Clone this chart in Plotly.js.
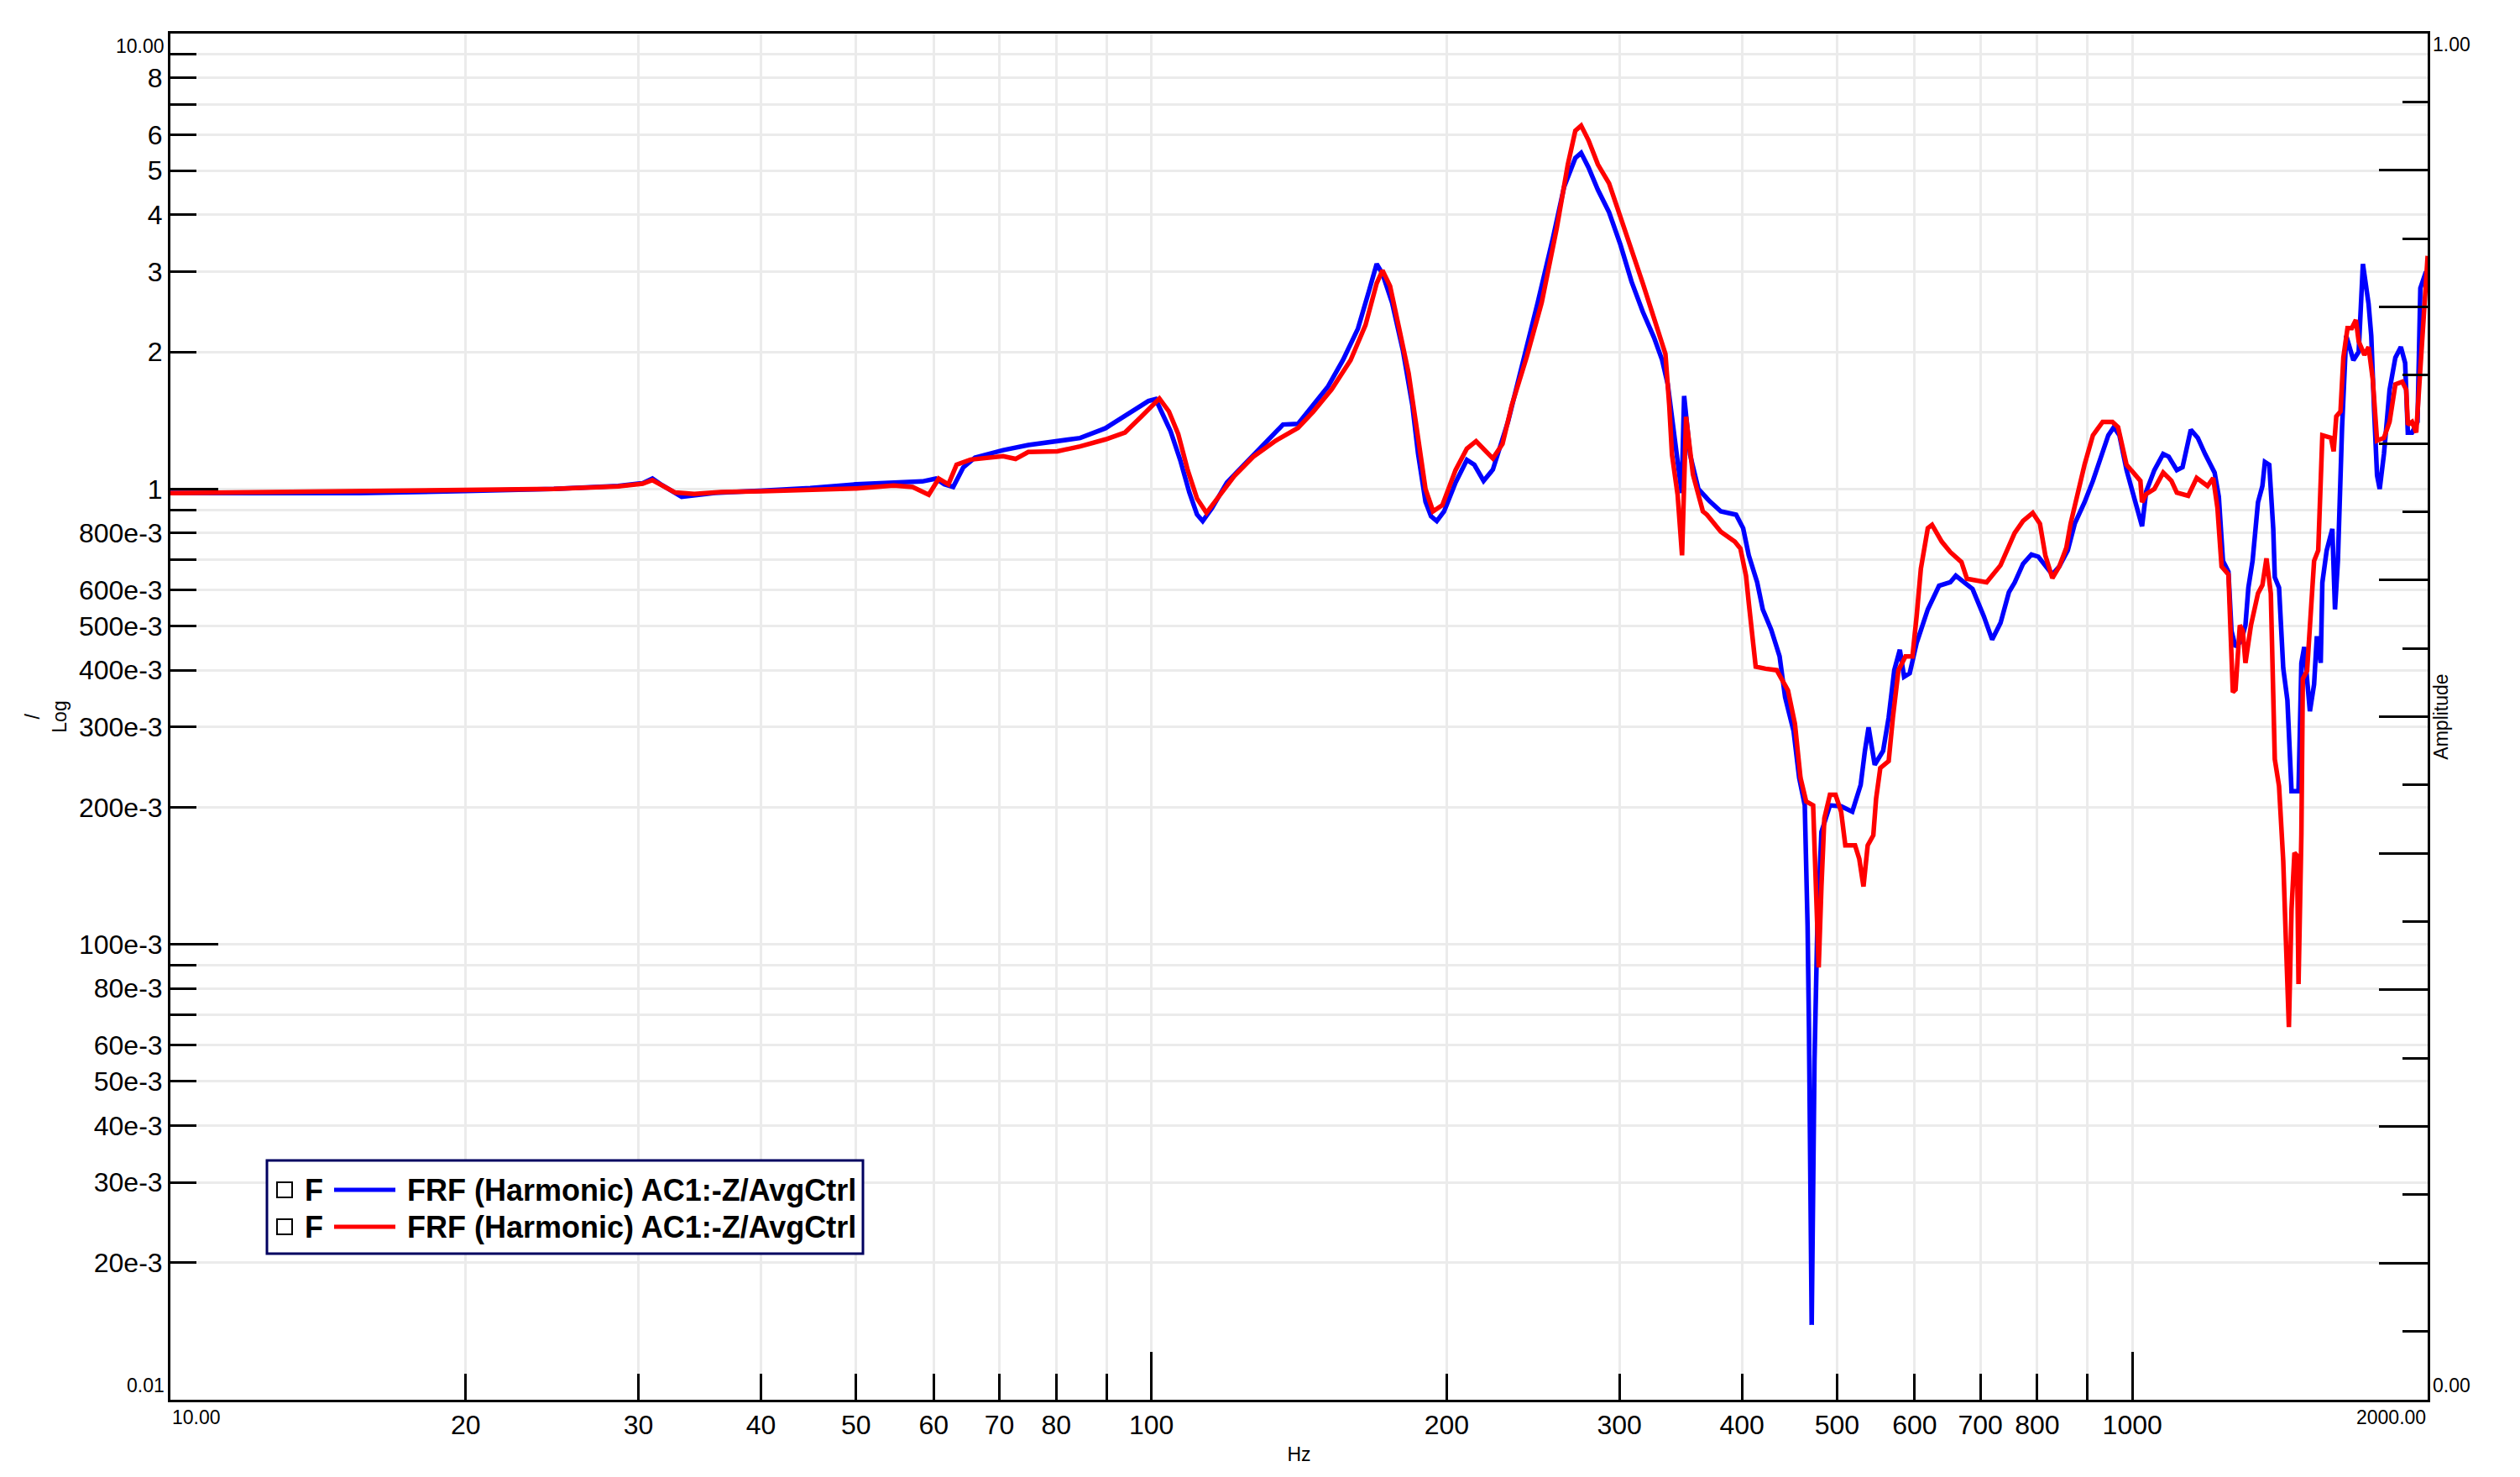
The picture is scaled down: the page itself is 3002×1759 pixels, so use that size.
<!DOCTYPE html>
<html>
<head>
<meta charset="utf-8">
<script src="https://cdn.plot.ly/plotly-3.0.1.min.js"></script>
<style>html,body{margin:0;padding:0;background:#fff;}#chart{width:3002px;height:1759px;}</style>
</head>
<body>
<div id="chart"></div>
<script>
// ---- data ----
const blueFreq = [10,12.5,15.6,20,24.6,28.6,30.3,31.0,31.7,33.2,35.9,40.2,44.9,50,54.6,58.4,60.3,61.5,62.8,64.3,66.1,70.6,74.9,80.2,84.6,89.8,95.4,99.3,101,102.8,104.6,107,109.3,111.3,112.8,115.3,119.4,124.8,130.4,136.2,141.1,146.2,151.4,156.8,162.4,166.8,169.7,172,175.9,180.5,184.5,187,190.3,192.8,195.4,198.8,204.2,209.7,213.4,218.1,222.9,231,239.2,247.7,256.6,263.5,270.5,274.2,279,285.2,292.8,300.7,308.7,316.9,325.4,331.6,336,340.4,345,347.2,349.2,351,354.1,361.1,370.7,380.6,394.5,401.1,406.4,414.5,420,428.4,436.9,442.6,451.5,457.5,463.5,466.6,468.1,471.1,474.2,477.4,482,491.7,504.8,518.2,528.5,533.8,538.4,546.2,557.1,564.4,571.9,579.4,585.2,593,602.7,618.7,635.3,652.2,660.7,687.2,705.5,719.5,733.9,748.4,758.6,773.7,789,802,815.3,828.8,842.5,859.3,873.5,893.8,911.6,929.7,945.1,957.5,970.1,986.5,1006,1023,1033,1053,1075,1089,1110,1125,1147,1166,1186,1213,1225,1237,1253,1262,1274,1291,1304,1313,1326,1343,1357,1365,1379,1392,1397,1411,1425,1439,1453,1477,1487,1497,1517,1532,1542,1556,1562,1578,1599,1609,1620,1636,1652,1680,1701,1718,1741,1752,1764,1776,1787,1805,1829,1854,1878,1897,1909,1928,1953,1966,1992,2000];
const blueAmp = [0.98,0.978,0.979,0.99,1.0,1.015,1.03,1.054,1.02,0.961,0.98,0.992,1.005,1.024,1.032,1.039,1.054,1.024,1.01,1.115,1.172,1.217,1.249,1.27,1.294,1.36,1.48,1.56,1.575,1.45,1.34,1.158,0.984,0.879,0.85,0.908,1.033,1.14,1.256,1.385,1.39,1.526,1.68,1.92,2.25,2.74,3.12,2.97,2.57,2.01,1.53,1.196,0.937,0.871,0.85,0.893,1.033,1.158,1.13,1.042,1.103,1.407,1.886,2.57,3.55,4.61,5.33,5.47,5.08,4.54,4.05,3.44,2.85,2.45,2.15,1.92,1.7,1.35,1.114,0.98,1.6,1.4,1.19,1.0,0.94,0.893,0.878,0.82,0.715,0.624,0.544,0.491,0.429,0.349,0.294,0.232,0.202,0.1095,0.0656,0.0146,0.0553,0.1095,0.1765,0.202,0.201,0.1956,0.224,0.266,0.2996,0.248,0.266,0.315,0.40,0.4435,0.387,0.394,0.459,0.544,0.613,0.624,0.645,0.603,0.526,0.467,0.508,0.593,0.623,0.685,0.718,0.71,0.676,0.649,0.676,0.733,0.839,0.935,1.042,1.194,1.312,1.367,1.312,1.10,0.935,0.828,0.987,1.10,1.194,1.178,1.10,1.116,1.349,1.295,1.194,1.086,0.961,0.695,0.658,0.488,0.45,0.463,0.502,0.607,0.695,0.935,1.015,1.146,1.13,0.817,0.64,0.607,0.404,0.3435,0.217,0.217,0.415,0.45,0.325,0.3725,0.475,0.415,0.623,0.733,0.817,0.544,0.695,1.367,2.17,1.918,2.0,3.12,2.55,2.17,1.48,1.071,1.0,1.194,1.65,1.943,2.05,1.891,1.33,1.33,1.404,2.76,3.0,2.9];

const redFreq = [10,12.5,15.6,20,24.6,28.6,30.3,31.0,31.7,32.7,34.2,36.4,40.2,44.9,50,54.6,57.1,59.3,60.7,62.1,63.3,65.4,70.6,72.7,74.9,80.2,84.6,89.8,94,97.6,101.9,104.2,106.5,108.9,111.3,113.8,117.3,121.5,127,133.9,141.1,146.2,152.7,159.6,165.3,169.7,172,175.1,178.9,182.9,187,190.3,193.7,198,204.2,209.7,214.3,219.1,222.9,228,233,241.3,250,258.9,265.8,270.5,274.2,279,285.2,292.8,300.7,308.7,316.9,325.4,334.2,337.2,339.4,343.9,347.5,350.8,356.5,364.9,368.4,380.6,393.3,398.5,403.8,406.4,410.4,413.1,422.7,434,445.6,452.9,458.9,465,472.7,475.8,478.9,482,485.3,491.7,498.2,504.8,509.8,521.6,526.8,532,537.3,544.4,548,553.4,564.4,570,577.5,587.1,596.8,602.7,608.7,618.7,624.9,639.3,652.2,669.5,678.3,710.3,733.9,758.5,773.7,791.5,805,815.3,828.8,842.5,856.5,865,879.4,893.8,911.6,932.7,954.4,967,986.5,1019,1023,1033,1053,1075,1096,1110,1140,1163,1193,1209,1221,1233,1253,1266,1274,1287,1296,1304,1321,1343,1357,1370,1384,1392,1397,1411,1425,1434,1444,1453,1463,1472,1477,1487,1492,1507,1517,1532,1547,1552,1562,1594,1604,1614,1630,1641,1657,1674,1690,1701,1724,1741,1758,1776,1805,1829,1854,1884,1902,1909,1928,1947,1966,1986,2000];
const redAmp = [0.979,0.985,0.987,0.993,1.0,1.013,1.027,1.046,1.017,0.982,0.975,0.985,0.989,0.996,1.003,1.017,1.01,0.971,1.054,1.024,1.131,1.16,1.18,1.164,1.206,1.21,1.24,1.285,1.331,1.44,1.58,1.48,1.32,1.10,0.953,0.886,0.968,1.068,1.177,1.277,1.362,1.478,1.656,1.917,2.29,2.83,3.02,2.79,2.25,1.796,1.297,1.0,0.893,0.922,1.10,1.226,1.273,1.216,1.167,1.256,1.526,1.948,2.57,3.73,5.16,6.12,6.28,5.83,5.16,4.69,3.98,3.33,2.83,2.37,1.98,1.53,1.19,0.972,0.715,1.44,1.077,0.893,0.878,0.806,0.766,0.74,0.645,0.563,0.459,0.407,0.403,0.40,0.361,0.305,0.232,0.206,0.202,0.139,0.089,0.134,0.189,0.213,0.213,0.1956,0.165,0.165,0.154,0.134,0.165,0.1736,0.209,0.244,0.2526,0.315,0.40,0.429,0.429,0.526,0.668,0.82,0.834,0.766,0.727,0.691,0.635,0.624,0.68,0.8,0.851,0.886,0.839,0.714,0.637,0.676,0.743,0.839,0.987,1.13,1.312,1.404,1.404,1.367,1.13,1.042,0.935,0.974,1.0,1.086,1.042,0.982,0.966,1.057,1.015,1.057,0.91,0.676,0.649,0.358,0.3625,0.502,0.488,0.415,0.502,0.59,0.615,0.704,0.59,0.3435,0.255,0.2226,0.1524,0.1016,0.0658,0.1194,0.1588,0.1566,0.0818,0.1746,0.383,0.399,0.502,0.695,0.733,0.898,1.312,1.295,1.21,1.443,1.48,1.943,2.255,2.255,2.35,2.11,1.97,2.05,1.744,1.277,1.295,1.404,1.697,1.72,1.652,1.385,1.404,1.33,1.79,2.62,3.25];

const seriesName = "FRF (Harmonic) AC1:-Z/AvgCtrl";

const xTickVals = [20,30,40,50,60,70,80,90,100,200,300,400,500,600,700,800,900,1000];
const xTickText = ["20","30","40","50","60","70","80","","100","200","300","400","500","600","700","800","","1000"];
const yTickVals = [0.02,0.03,0.04,0.05,0.06,0.07,0.08,0.09,0.1,0.2,0.3,0.4,0.5,0.6,0.7,0.8,0.9,1,2,3,4,5,6,7,8,9];
const yTickText = ["20e-3","30e-3","40e-3","50e-3","60e-3","","80e-3","","100e-3","200e-3","300e-3","400e-3","500e-3","600e-3","","800e-3","","1","2","3","4","5","6","","8",""];
const decadeX = [100,1000];
const decadeY = [0.1,1];
const xRange = [10,2000];
const yRange = [0.01,10];

// ---- chart ----
const FONT = "Liberation Sans, Arial, sans-serif";
const traces = [
  {x: blueFreq, y: blueAmp, type: "scatter", mode: "lines", name: seriesName,
   line: {color: "#0000ff", width: 5.5}, showlegend: false, hoverinfo: "skip"},
  {x: redFreq, y: redAmp, type: "scatter", mode: "lines", name: seriesName,
   line: {color: "#ff0000", width: 5.5}, showlegend: false, hoverinfo: "skip"},
  {x: [], y: [], xaxis: "x", yaxis: "y2", showlegend: false},
  {x: [], y: [], xaxis: "x2", yaxis: "y", showlegend: false},
  {x: [], y: [], xaxis: "x", yaxis: "y3", showlegend: false}
];

const P = {l: 203, r: 110, t: 40, b: 92, W: 3002, H: 1759};
const pw = P.W - P.l - P.r, ph = P.H - P.t - P.b;
const px = x => (x - P.l) / pw;
const py = y => (P.H - P.b - y) / ph;

const legendRows = [1417, 1461];
const legendColors = ["#0000ff", "#ff0000"];
const shapes = [
  {type: "rect", xref: "paper", yref: "paper", x0: px(318), x1: px(1028), y0: py(1493), y1: py(1382),
   line: {color: "#000060", width: 3}, fillcolor: "#ffffff", layer: "above"}
];
const annotations = [];
legendRows.forEach((r, i) => {
  shapes.push({type: "rect", xref: "paper", yref: "paper", x0: px(330), x1: px(348), y0: py(r + 9), y1: py(r - 9),
    line: {color: "#000000", width: 2}, fillcolor: "#ffffff", layer: "above"});
  shapes.push({type: "line", xref: "paper", yref: "paper", x0: px(398), x1: px(471), y0: py(r), y1: py(r),
    line: {color: legendColors[i], width: 5}, layer: "above"});
  annotations.push({xref: "paper", yref: "paper", x: px(361), y: py(r), xanchor: "left", yanchor: "middle",
    text: "<b>F</b>", showarrow: false, font: {family: FONT, size: 36, color: "#000"}});
  annotations.push({xref: "paper", yref: "paper", x: px(483), y: py(r), xanchor: "left", yanchor: "middle",
    text: "<b>" + seriesName + "</b>", showarrow: false, font: {family: FONT, size: 36, color: "#000"}});
});
const small = {family: FONT, size: 23, color: "#000"};
annotations.push(
  {xref: "paper", yref: "paper", x: 0, y: 1, xanchor: "right", yanchor: "middle", xshift: -5, yshift: -15, text: "10.00", showarrow: false, font: small},
  {xref: "paper", yref: "paper", x: 0, y: 0, xanchor: "right", yanchor: "middle", xshift: -5, yshift: 17, text: "0.01", showarrow: false, font: small},
  {xref: "paper", yref: "paper", x: 0, y: 0, xanchor: "left", yanchor: "top", yshift: -6, text: "10.00", showarrow: false, font: small},
  {xref: "paper", yref: "paper", x: 1, y: 0, xanchor: "right", yanchor: "top", yshift: -6, text: "2000.00", showarrow: false, font: small},
  {xref: "paper", yref: "paper", x: 1, y: 1, xanchor: "left", yanchor: "middle", xshift: 4, yshift: -13, text: "1.00", showarrow: false, font: small},
  {xref: "paper", yref: "paper", x: 1, y: 0, xanchor: "left", yanchor: "middle", xshift: 4, yshift: 17, text: "0.00", showarrow: false, font: small},
  {xref: "paper", yref: "paper", x: px(38), y: 0.5, xanchor: "center", yanchor: "middle", textangle: -90, text: "/", showarrow: false, font: small}
);

const logR = r => [Math.log10(r[0]), Math.log10(r[1])];
const layout = {
  width: P.W, height: P.H,
  margin: {l: P.l, r: P.r, t: P.t, b: P.b},
  paper_bgcolor: "#ffffff", plot_bgcolor: "#ffffff",
  font: {family: FONT, size: 32, color: "#000"},
  showlegend: false, hovermode: false,
  xaxis: {type: "log", range: logR(xRange), tickmode: "array", tickvals: xTickVals, ticktext: xTickText,
    ticks: "inside", ticklen: 31, tickwidth: 3, tickcolor: "#000",
    showgrid: true, gridcolor: "#ebebeb", gridwidth: 3, zeroline: false,
    showline: true, linecolor: "#000", linewidth: 3, mirror: true,
    tickfont: {family: FONT, size: 32, color: "#000"},
    title: {text: "Hz", font: {family: FONT, size: 23, color: "#000"}, standoff: 10}},
  xaxis2: {type: "log", range: logR(xRange), overlaying: "x", anchor: "y", side: "bottom",
    tickmode: "array", tickvals: decadeX, ticks: "inside", ticklen: 57, tickwidth: 3, tickcolor: "#000",
    showticklabels: false, showgrid: false, zeroline: false, showline: false},
  yaxis: {type: "log", range: logR(yRange), tickmode: "array", tickvals: yTickVals, ticktext: yTickText,
    ticks: "inside", ticklen: 31, tickwidth: 3, tickcolor: "#000",
    showgrid: true, gridcolor: "#ebebeb", gridwidth: 3, zeroline: false,
    showline: true, linecolor: "#000", linewidth: 3, mirror: true,
    tickfont: {family: FONT, size: 32, color: "#000"},
    title: {text: "Log", font: {family: FONT, size: 23, color: "#000"}, standoff: 8}},
  yaxis2: {range: [0, 1], overlaying: "y", anchor: "x", side: "right",
    tickmode: "linear", tick0: 0, dtick: 0.1, ticks: "inside", ticklen: 58, tickwidth: 3, tickcolor: "#000",
    minor: {tickmode: "linear", tick0: 0, dtick: 0.05, ticks: "inside", ticklen: 30, tickwidth: 3, tickcolor: "#000", showgrid: false},
    showticklabels: false, showgrid: false, zeroline: false,
    showline: true, linecolor: "#000", linewidth: 3,
    title: {text: "Amplitude", font: {family: FONT, size: 23, color: "#000"}, standoff: 6}},
  yaxis3: {type: "log", range: logR(yRange), overlaying: "y", anchor: "x", side: "left",
    tickmode: "array", tickvals: decadeY, ticks: "inside", ticklen: 57, tickwidth: 3, tickcolor: "#000",
    showticklabels: false, showgrid: false, zeroline: false, showline: false},
  shapes: shapes,
  annotations: annotations
};

Plotly.newPlot("chart", traces, layout, {staticPlot: true, displayModeBar: false});
</script>
</body>
</html>
